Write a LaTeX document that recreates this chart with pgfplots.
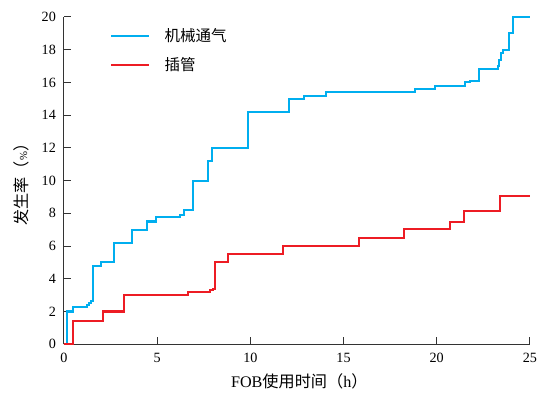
\documentclass[border=0pt]{standalone}
\usepackage{fontspec}
\setmainfont{Liberation Serif}
\newfontfamily\cjk{Noto Sans CJK SC}
\usepackage{pgfplots}
\pgfplotsset{compat=1.18}
\definecolor{cblue}{RGB}{0,174,239}
\definecolor{cred}{RGB}{237,28,36}
\begin{document}
\begin{tikzpicture}
\begin{axis}[
  scale only axis,
  width=346pt, height=243pt,
  xmin=0, xmax=25, ymin=0, ymax=20,
  axis lines=left,
  axis line style={-, line width=0.7pt, black!80},
  xtick={0,5,...,25},
  ytick={0,2,...,20},
  tick align=inside,
  major tick length=5pt,
  tick style={line width=0.7pt, black!80},
  /pgf/number format/assume math mode=true,
  ticklabel style={font=\fontsize{10.5}{12}\selectfont},
  xticklabel style={yshift=-3.4pt},
  yticklabel style={xshift=-2.5pt},
  clip=false,
  xlabel={\fontsize{12}{14}\selectfont FOB{\cjk 使用时间（}h{\cjk ）}},
  ylabel={\fontsize{12}{14}\selectfont{\cjk 发生率（}{\footnotesize\%}{\cjk ）}},
  xlabel style={at={([yshift=-27.5pt]axis description cs:0.505,0)}, anchor=center},
  ylabel style={at={([xshift=-32pt]axis description cs:0,0.5)}, anchor=center},
  legend style={draw=none, fill=none, at={([xshift=31pt,yshift=-4pt]axis description cs:0,1)}, anchor=north west,
    font=\fontsize{11.5}{13}\selectfont\cjk, row sep=6.5pt},
  legend cell align=left,
  legend image code/.code={\draw[#1] (0pt,0pt) -- (28pt,0pt); \path (37pt,0pt);},
]
\addplot[const plot, color=cblue, line width=1.5pt] coordinates {
(0,0) (0.18,2.0) (0.47,2.28) (1.25,2.4) (1.35,2.5) (1.45,2.65) (1.56,4.8)
(1.97,5.0) (2.68,6.2) (3.67,7.0) (4.47,7.5) (4.95,7.8) (6.22,7.9) (6.44,8.2)
(6.94,10.0) (7.71,11.2) (7.92,12.0) (9.9,14.2) (12.09,15.0) (12.88,15.2)
(14.07,15.4) (18.81,15.6) (19.9,15.8) (21.5,16.0) (21.8,16.1) (22.28,16.8)
(23.28,17.0) (23.35,17.4) (23.45,17.8) (23.57,18.0) (23.87,19.0) (24.09,20.0)
(25,20.0)
};
\addlegendentry{机械通气}
\addplot[const plot, color=cred, line width=1.5pt] coordinates {
(0,0) (0.5,1.4) (2.07,2.0) (3.24,3.0) (6.65,3.2) (7.83,3.3) (8.01,3.4)
(8.12,5.0) (8.78,5.5) (11.73,6.0) (15.83,6.5) (18.26,7.07) (20.7,7.48)
(21.46,8.17) (23.41,9.07) (25,9.07)
};
\addlegendentry{插管}
\end{axis}
\pgfresetboundingbox
\path (current axis.south west) ++(-47.5pt,-37pt) coordinate (bbA);
\path (current axis.north east) ++(6pt,12.6pt) coordinate (bbB);
\useasboundingbox (bbA) rectangle (bbB);
\end{tikzpicture}
\end{document}
